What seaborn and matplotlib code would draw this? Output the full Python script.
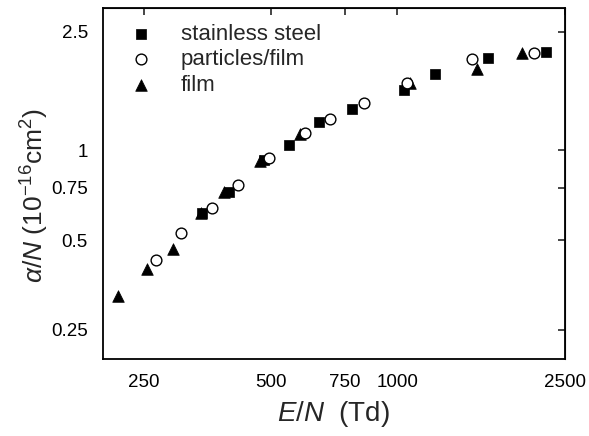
import matplotlib
matplotlib.use('Agg')
import matplotlib.pyplot as plt
import seaborn as sns
import pandas as pd
from matplotlib.ticker import FixedLocator, NullLocator, FixedFormatter

# 数据
steel_x = [343, 399, 482, 554, 653, 780, 1036, 1232, 1646, 2254]
steel_y = [0.616, 0.727, 0.929, 1.043, 1.246, 1.375, 1.596, 1.802, 2.039, 2.133]

particles_x = [267, 306, 362, 418, 497, 604, 693, 832, 1055, 1507, 2114]
particles_y = [0.429, 0.527, 0.641, 0.768, 0.942, 1.142, 1.273, 1.447, 1.689, 2.023, 2.128]

film_x = [217, 254, 293, 341, 387, 472, 588, 1074, 1543, 1976]
film_y = [0.325, 0.400, 0.467, 0.616, 0.727, 0.924, 1.140, 1.690, 1.873, 2.120]

x_ticks = [250, 500, 750, 1000, 2500]
x_ticklabels = ['250', '500', '750', '1000', '2500']
y_ticks = [0.25, 0.5, 0.75, 1, 2.5]
y_ticklabels = ['0.25', '0.5', '0.75', '1', '2.5']

sns.set_style('white')
plt.rcParams['font.family'] = ['Liberation Sans', 'DejaVu Sans']
plt.rcParams['mathtext.fontset'] = 'custom'
plt.rcParams['mathtext.rm'] = 'Liberation Sans'
plt.rcParams['mathtext.it'] = 'Liberation Sans:italic'

fig = plt.figure(figsize=(5.89, 4.36), dpi=100)
ax = fig.add_axes([0.175, 0.177, 0.784, 0.804])

steel = pd.DataFrame({'x': steel_x, 'y': steel_y})
particles = pd.DataFrame({'x': particles_x, 'y': particles_y})
film = pd.DataFrame({'x': film_x, 'y': film_y})

sns.scatterplot(data=steel, x='x', y='y', marker='s', s=52, color='black',
                edgecolor='black', linewidth=0.5, label='stainless steel', ax=ax, zorder=3)
sns.scatterplot(data=film, x='x', y='y', marker='^', s=70, color='black',
                edgecolor='black', linewidth=0.5, label='film', ax=ax, zorder=3)
sns.scatterplot(data=particles, x='x', y='y', marker='o', s=60, facecolor='white',
                edgecolor='black', linewidth=1.0, label='particles/film', ax=ax, zorder=4)

ax.set_xscale('log')
ax.set_yscale('log')
ax.set_xlim(200, 2500)
ax.set_ylim(0.2, 3.0)

ax.xaxis.set_major_locator(FixedLocator(x_ticks))
ax.xaxis.set_major_formatter(FixedFormatter(x_ticklabels))
ax.xaxis.set_minor_locator(NullLocator())
ax.yaxis.set_major_locator(FixedLocator(y_ticks))
ax.yaxis.set_major_formatter(FixedFormatter(y_ticklabels))
ax.yaxis.set_minor_locator(NullLocator())

for sp in ax.spines.values():
    sp.set_linewidth(1.3)
    sp.set_color('black')

ax.tick_params(axis='both', which='major', direction='out', length=5, width=1.2,
               labelsize=13.5, colors='black', pad=6)
# 上/右镜像刻度
ax_top = ax.secondary_xaxis('top')
ax_top.set_xticks(x_ticks)
ax_top.tick_params(direction='in', length=5, width=1.2, labeltop=False)
ax_top.xaxis.set_minor_locator(NullLocator())
ax_right = ax.secondary_yaxis('right')
ax_right.set_yticks(y_ticks)
ax_right.tick_params(direction='in', length=5, width=1.2, labelright=False)
ax_right.yaxis.set_minor_locator(NullLocator())

ax.set_xlabel(r'$E/N$  (Td)', fontsize=20, labelpad=6)
ax.set_ylabel(r'$\alpha/N$ (10$^{-16}$cm$^2$)', fontsize=19)
ax.yaxis.set_label_coords(-0.112, 0.465)

handles, labels = ax.get_legend_handles_labels()
order = [labels.index('stainless steel'), labels.index('particles/film'), labels.index('film')]
ax.legend([handles[i] for i in order], [labels[i] for i in order], loc='upper left',
          frameon=False, fontsize=16, handletextpad=0.8, labelspacing=0.2,
          borderaxespad=0.3, bbox_to_anchor=(0.0, 1.0))

fig.savefig('out.png', dpi=100)
